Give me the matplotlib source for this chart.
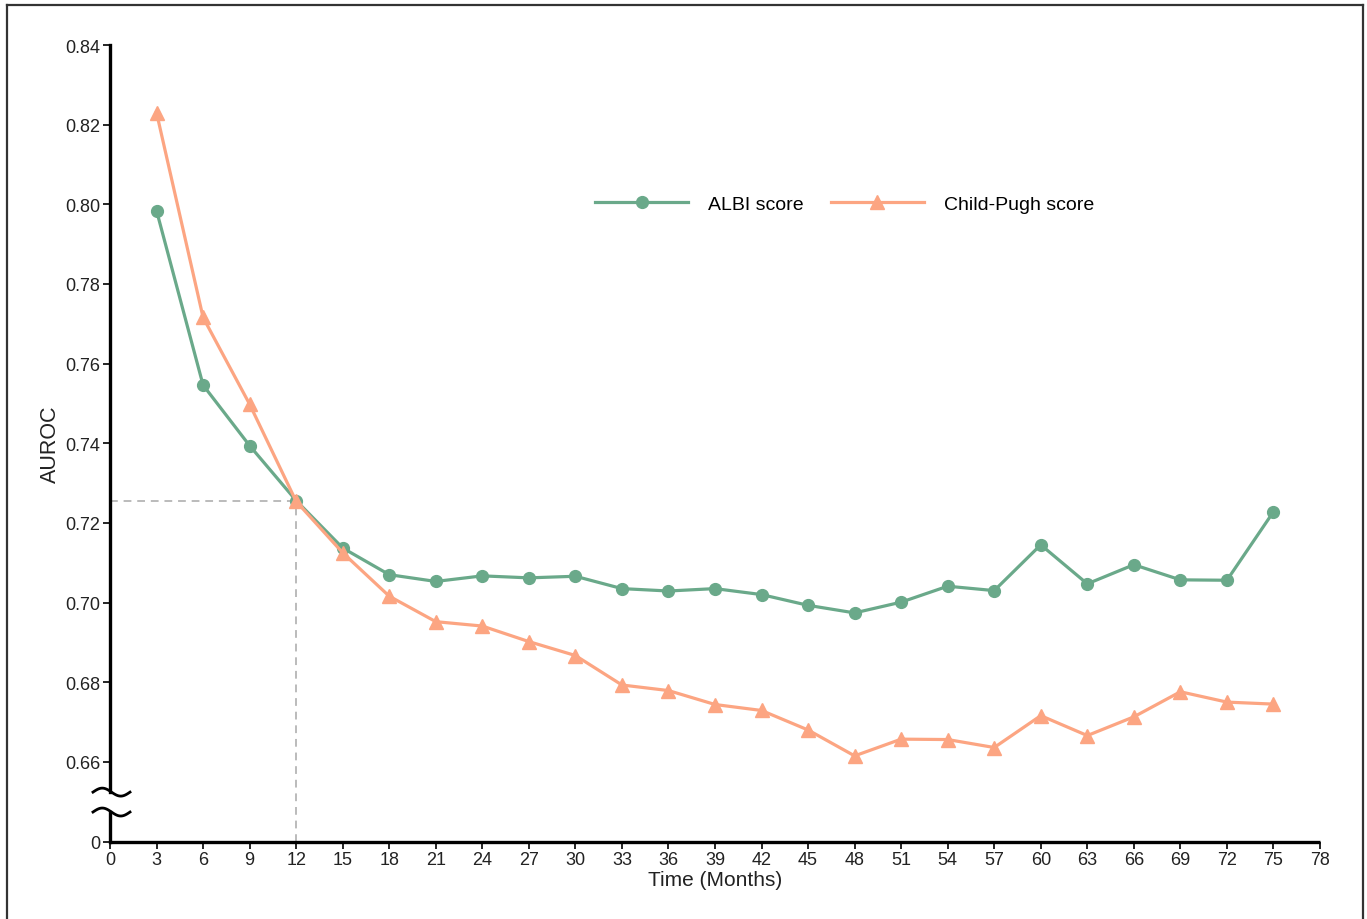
import matplotlib.pyplot as plt
import matplotlib.transforms as mtransforms
from matplotlib.lines import Line2D
import numpy as np

plt.rcParams['font.family'] = ['Liberation Sans', 'DejaVu Sans']

months = [3, 6, 9, 12, 15, 18, 21, 24, 27, 30, 33, 36, 39, 42, 45, 48, 51, 54,
          57, 60, 63, 66, 69, 72, 75]
albi = [0.7984, 0.7546, 0.7394, 0.7256, 0.7137, 0.7070, 0.7053, 0.7067, 0.7062,
        0.7066, 0.7035, 0.7029, 0.7035, 0.7020, 0.6993, 0.6974, 0.7001, 0.7041,
        0.7030, 0.7145, 0.7047, 0.7095, 0.7057, 0.7056, 0.7228]
child_pugh = [0.8230, 0.7716, 0.7498, 0.7254, 0.7125, 0.7016, 0.6952, 0.6941,
              0.6902, 0.6867, 0.6793, 0.6779, 0.6744, 0.6729, 0.6680, 0.6615,
              0.6657, 0.6656, 0.6636, 0.6716, 0.6666, 0.6713, 0.6776, 0.6750,
              0.6745]
xticks = list(range(0, 79, 3))
yticks = [0.64, 0.66, 0.68, 0.70, 0.72, 0.74, 0.76, 0.78, 0.80, 0.82, 0.84]
ytick_labels = ['0', '0.66', '0.68', '0.70', '0.72', '0.74', '0.76', '0.78',
                '0.80', '0.82', '0.84']
cutoff_month = 12

green = '#6AA98A'
salmon = '#FCA582'
fontsize = 13

W, H = 1367, 920
fig = plt.figure(figsize=(W / 100, H / 100), dpi=100)
ax = fig.add_axes([110 / W, 1 - 842.5 / H, 1210 / W, 796.5 / H])

# reference lines at 12 months
cut_val = albi[months.index(cutoff_month)]
ax.plot([0, cutoff_month], [cut_val, cut_val], ls=(0, (4, 3)), color='#bbbbbb', lw=1.4, zorder=1)
ax.plot([cutoff_month, cutoff_month], [0.64, cut_val], ls=(0, (4, 3)), color='#bbbbbb', lw=1.4, zorder=1)

ax.plot(months, albi, color=green, lw=2.3, marker='o', markersize=8.5,
        label='ALBI score', zorder=3)
ax.plot(months, child_pugh, color=salmon, lw=2.3, marker='^', markersize=10,
        label='Child-Pugh score', zorder=3)

ax.set_xlim(0, 78)
ax.set_ylim(0.64, 0.84)
ax.set_xticks(xticks)
ax.set_xticklabels([str(x) for x in xticks], fontsize=fontsize, color='#222222')
ax.set_yticks(yticks)
ax.set_yticklabels(ytick_labels, fontsize=fontsize, color='#222222')
ax.tick_params(direction='out', length=5, width=1.2, pad=2)
ax.set_xlabel('Time (Months)', fontsize=15, labelpad=1, color='#222222')
ax.set_ylabel('AUROC', fontsize=15.5, labelpad=3, color='#222222')

for s in ['top', 'right', 'left']:
    ax.spines[s].set_visible(False)
ax.spines['bottom'].set_linewidth(2.4)
ax.spines['bottom'].set_capstyle('butt')

# broken left axis
blend = mtransforms.blended_transform_factory(ax.transAxes, ax.transData)
brk_lo, brk_hi = 0.6474, 0.6524
ax.add_line(Line2D([0, 0], [0.64, brk_lo], transform=blend, color='black', lw=2.4, clip_on=False))
ax.add_line(Line2D([0, 0], [brk_hi, 0.84], transform=blend, color='black', lw=2.4, clip_on=False))
t = np.linspace(0, 1, 50)
tx = (-17 + 37 * t) / 1210
for yb in [brk_lo, brk_hi]:
    ty = yb + 0.001 * np.sin(2 * np.pi * t)
    ax.add_line(Line2D(tx, ty, transform=blend, color='black', lw=2.0, clip_on=False))

ax.legend(frameon=False, ncol=2, fontsize=fontsize + 1, loc='center',
          bbox_to_anchor=(0.607, 0.80), handlelength=4.8, columnspacing=1.4,
          handletextpad=1.0)

# figure border
for xs, ys in [([7 / W, 7 / W], [0, 1 - 6 / H]),
               ([7 / W, 1363 / W], [1 - 6 / H, 1 - 6 / H]),
               ([1363 / W, 1363 / W], [0, 1 - 6 / H])]:
    fig.add_artist(Line2D(xs, ys, transform=fig.transFigure, color='#333333', lw=1.6))

fig.savefig('out.png', dpi=100)
